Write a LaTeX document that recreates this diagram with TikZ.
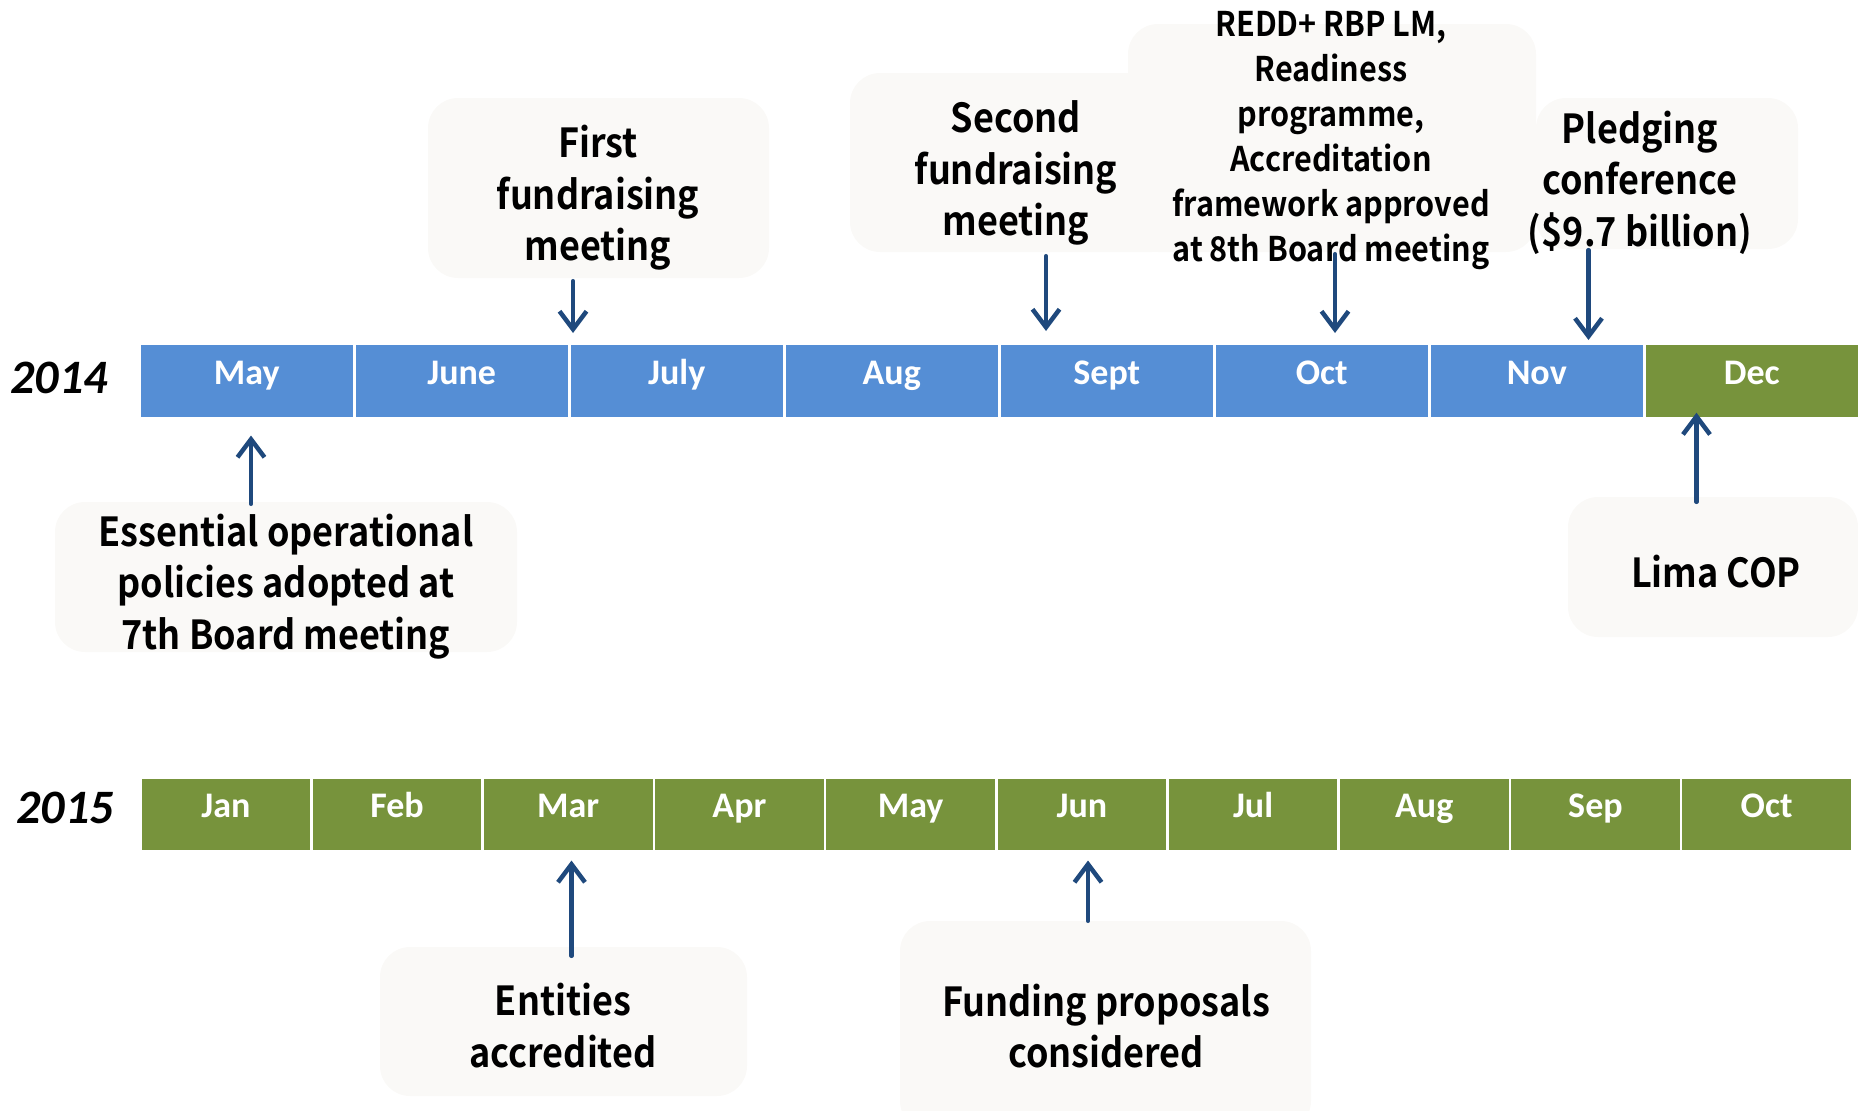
\documentclass[tikz,border=0pt]{standalone}
\usepackage{fontspec}
\setmainfont{Carlito}
\newfontfamily\callfont[FakeStretch=0.9]{Noto Sans CJK JP Bold}
\usetikzlibrary{arrows.meta,calc,positioning}
\definecolor{monthblue}{RGB}{85,142,213}
\definecolor{monthgreen}{RGB}{119,147,60}
\definecolor{pointerblue}{RGB}{31,73,125}
\definecolor{notefill}{RGB}{250,249,247}
\tikzset{
  monthcell/.style={
    rectangle,
    draw=white, line width=2.5pt,
    anchor=north west,
    minimum width=215pt,
    minimum height=74.8pt,
    inner sep=0pt,
    text=white,
    text height=0.644em, text depth=0pt,
    font=\fontsize{36}{36}\selectfont\bfseries},
  yearlabel/.style={font=\fontsize{48}{48}\selectfont\bfseries\itshape},
  notebox/.style={
    rectangle,
    rounded corners=30pt,
    fill=notefill,
    inner sep=0pt},
  notetext/.style={
    align=center,
    inner sep=0pt,
    font=\callfont\fontsize{40}{51.5}\selectfont},
}

\begin{document}
\begin{tikzpicture}[
    x=1pt, y=-1pt,
    pointer/.style={draw=pointerblue, line width=4.5pt, line cap=round,
      -{Straight Barb[length=18pt, width=27pt]}}
    ]
    \useasboundingbox (0,0) rectangle (1858,1111);

    % callout boxes, top row
    \node[notebox, minimum width=341pt, minimum height=180pt] (first) at (598.5,188) {};
    \node[notebox, minimum width=332pt, minimum height=179pt] (second) at (1016,162.5) {};
    \node[notebox, minimum width=408pt, minimum height=228pt] (redd) at (1332,138) {};
    \node[notebox, minimum width=262pt, minimum height=151pt] (pledge) at (1667,173.5) {};

    % callout boxes, below the bars
    \node[notebox, minimum width=462pt, minimum height=150pt] (policies) at (286,577) {};
    \node[notebox, minimum width=290pt, minimum height=140pt] (lima) at (1713,567) {};
    \node[notebox, minimum width=367pt, minimum height=149pt] (entities) at (563.5,1021.5) {};
    \node[notebox, minimum width=411pt, minimum height=210pt] (proposals) at (1105.5,1026) {};

    % callout texts
    \node[notetext] (first-text) at (598,198) {First\\fundraising\\meeting};
    \node[notetext] (second-text) at (1016,173) {Second\\fundraising\\meeting};
    \node[notetext, font=\callfont\fontsize{34}{45}\selectfont] (redd-text) at (1331,141)
         {REDD+ RBP LM,\\Readiness\\programme,\\Accreditation\\framework approved\\at 8th Board meeting};
    \node[notetext] (pledge-text) at (1640,182.5) {Pledging\\conference\\(\$9.7 billion)};
    \node[notetext] (policies-text) at (286,586.5)
         {Essential operational\\policies adopted at\\7th Board meeting};
    \node[notetext] (lima-text) at (1716,572) {Lima COP};
    \node[notetext] (entities-text) at (563,1025.5) {Entities\\accredited};
    \node[notetext] (proposals-text) at (1106,1026) {Funding proposals\\considered};

    % 2014 bar
    \node[yearlabel] (y2014) at (59,378) {2014};
    \foreach \m [count=\i from 0] in {May,June,July,Aug,Sept,Oct,Nov}
      \node[monthcell, fill=monthblue] (y14-\i) at ({138+\i*215},342.4) {\m};
    \node[monthcell, fill=monthgreen] (y14-7) at (1643,342.4) {Dec};

    % 2015 bar
    \node[yearlabel] (y2015) at (65,808) {2015};
    \foreach \m [count=\i from 0] in {Jan,Feb,Mar,Apr,May,Jun,Jul,Aug,Sep,Oct}
      \node[monthcell, fill=monthgreen, minimum width=171.2pt, minimum height=73.4pt]
           (y15-\i) at ({139+\i*171.2},776.3) {\m};

    % pointers
    \coordinate (first-pin) at ([xshift=-25.5pt]first.south);
    \coordinate (second-pin) at ([xshift=30pt]second.south);
    \coordinate (redd-pin) at ([xshift=3pt]redd.south);
    \coordinate (pledge-pin) at ([xshift=-78.5pt]pledge.south);
    \coordinate (policies-pin) at ([xshift=-35pt]policies.north);
    \coordinate (lima-pin) at ([xshift=-16.5pt]lima.north);
    \coordinate (entities-pin) at ([xshift=8pt]entities.north);
    \coordinate (proposals-pin) at ([xshift=-17.5pt]proposals.north);

    \draw[pointer, shorten <=3pt, shorten >=9.4pt] (first-pin) -- (first-pin |- y14-2.north);
    \draw[pointer, shorten <=4pt, shorten >=11.4pt] (second-pin) -- (second-pin |- y14-4.north);
    \draw[pointer, shorten <=2pt, shorten >=9.4pt] (redd-pin) -- (redd-pin |- y14-5.north);
    \draw[pointer, shorten <=1pt, shorten >=2.4pt] (pledge-pin) -- (pledge-pin |- y14-6.north);
    \draw[pointer, shorten <=-2pt, shorten >=15.8pt] (policies-pin) -- (policies-pin |- y14-0.south);
    \draw[pointer, shorten <=-5pt, shorten >=-7pt] (lima-pin) -- (lima-pin |- y14-7.south);
    \draw[pointer, shorten <=-9pt, shorten >=8.3pt] (entities-pin) -- (entities-pin |- y15-2.south);
    \draw[pointer, shorten >=8.3pt] (proposals-pin) -- (proposals-pin |- y15-5.south);

\end{tikzpicture}
\end{document}
